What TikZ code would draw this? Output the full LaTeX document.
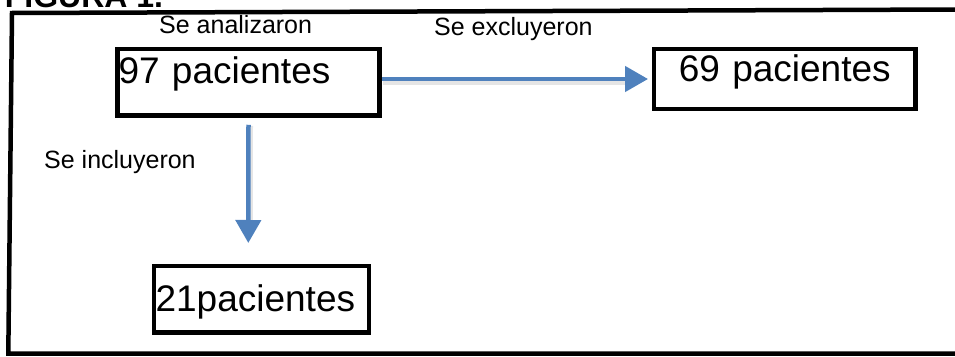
\documentclass[tikz,border=0pt]{standalone}
\usepackage{fontspec}
\setmainfont{Liberation Sans}
\usetikzlibrary{arrows.meta}
\definecolor{flowblue}{RGB}{79,129,189}
\begin{document}
\begin{tikzpicture}[x=1pt,y=-1pt,
  frame/.style={line width=4.5pt, line join=miter},
  box/.style={draw, line width=4.5pt, rectangle, inner ysep=0pt, inner xsep=1pt},
  bigtext/.style={font=\fontsize{37}{44}\selectfont},
  smalltext/.style={font=\fontsize{25}{30}\selectfont, inner sep=0pt, anchor=base west},
  flow/.style={draw=flowblue, line width=4.5pt, -{Triangle[length=23pt,width=25pt,fill=flowblue]}},
  flowshade/.style={draw=black, opacity=0.10, line width=6pt}
]
\useasboundingbox (0,0) rectangle (955,356);

% title, partly above the page edge
\node[font=\bfseries\fontsize{32}{38}\selectfont, anchor=base west, inner sep=0pt] (title) at (4.7,7) {FIGURA 1.};

% outer frame (its right side runs off the page)
\draw[frame] (958,9.5) -- (12,13) -- (8.3,353.5) -- (958,353.5);

% patient boxes
\node[box, bigtext, text width=260pt, align=left, text height=34pt, text depth=32.5pt] (b97) at (248.5,82.25) {97 pacientes};
\node[box, bigtext, text width=259.5pt, align=center, text height=32.7pt, text depth=27.3pt] (b69) at (784.75,79) {69 pacientes};
\node[box, bigtext, inner xsep=1.6pt, text width=211.8pt, align=left, text height=45.7pt, text depth=20.8pt] (b21) at (261.5,299.25) {21pacientes};

% labels
\node[smalltext] (analizaron) at (159,33.3) {Se analizaron};
\node[smalltext] (excluyeron) at (434,35.5) {Se excluyeron};
\node[smalltext] (incluyeron) at (44,168) {Se incluyeron};

% arrows
\coordinate (inTip) at (248.3,243);
\draw[flowshade, transform canvas={shift={(1pt,-2.5pt)}}, shorten >=20pt] (b97.east |- b69.west) -- (b69.west);
\draw[flowshade, transform canvas={shift={(1.5pt,-1pt)}}, shorten >=20pt] ([yshift=-7pt]b97.south) -- (inTip);
\draw[flow, shorten >=3.7pt] (b97.east |- b69.west) -- (b69.west);
\draw[flow] ([yshift=-7pt]b97.south) -- (inTip);
\end{tikzpicture}
\end{document}
